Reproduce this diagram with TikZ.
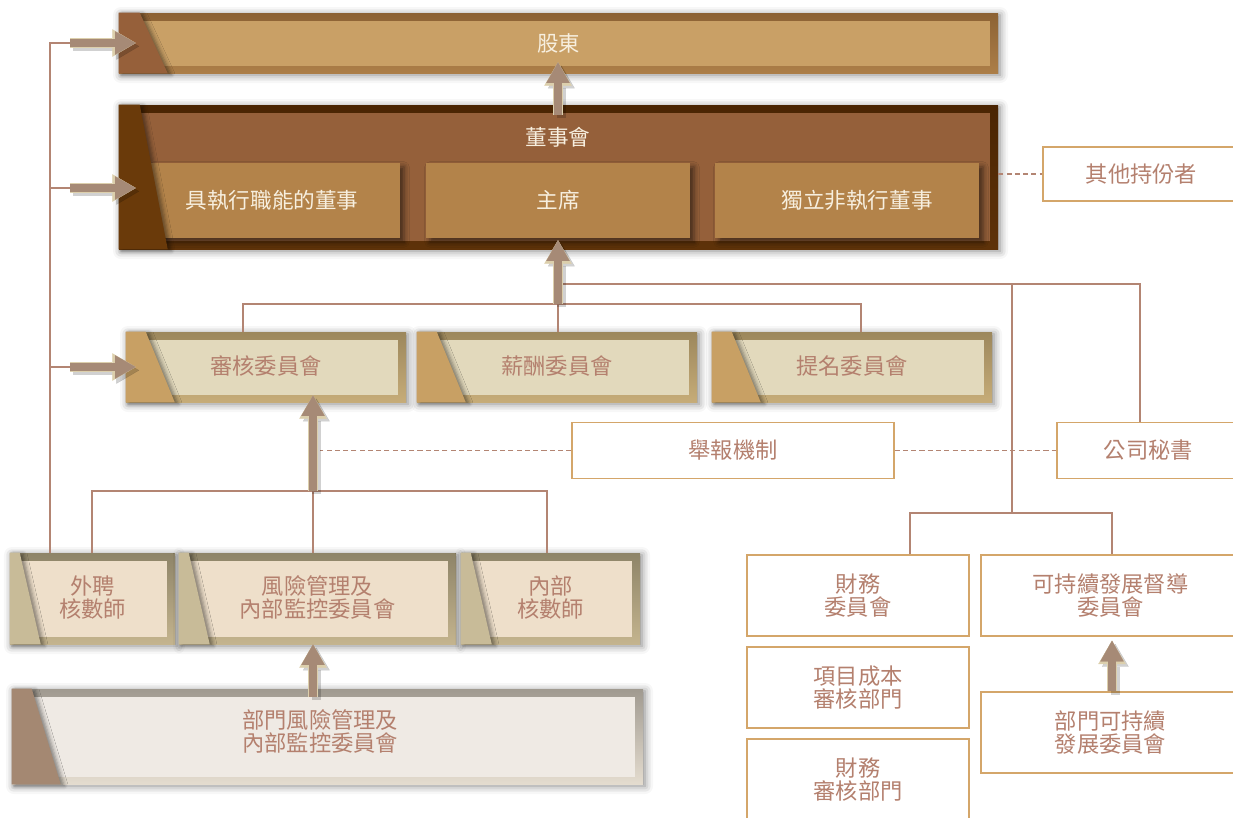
\documentclass[tikz,border=0pt]{standalone}
\usepackage{fontspec}
\setmainfont{Noto Sans CJK TC}
\usetikzlibrary{positioning,calc,arrows.meta,shadows.blur}

\definecolor{shtop}{HTML}{8C6234}
\definecolor{shbot}{HTML}{AC7E48}
\definecolor{shinner}{HTML}{C9A066}
\definecolor{shwedge}{HTML}{96603A}
\definecolor{bdtop}{HTML}{4A2503}
\definecolor{bdbot}{HTML}{5E3209}
\definecolor{bdinner}{HTML}{95603A}
\definecolor{bdwedge}{HTML}{6A3A0A}
\definecolor{seatfill}{HTML}{B3834A}
\definecolor{comtop}{HTML}{9C875C}
\definecolor{combot}{HTML}{C6AC78}
\definecolor{cominner}{HTML}{E2D9BC}
\definecolor{comwedge}{HTML}{C8A064}
\definecolor{rowtop}{HTML}{8E8468}
\definecolor{rowbot}{HTML}{C4B48E}
\definecolor{rowinner}{HTML}{EEDFCA}
\definecolor{rowwedge}{HTML}{C8BB98}
\definecolor{deptop}{HTML}{A09A90}
\definecolor{depbot}{HTML}{E4DCCF}
\definecolor{depinner}{HTML}{EFEAE4}
\definecolor{depwedge}{HTML}{A48872}
\definecolor{lighttext}{HTML}{F7EFDF}
\definecolor{rose}{HTML}{B4806E}
\definecolor{goldline}{HTML}{D4A66A}
\definecolor{treeline}{HTML}{B38573}
\definecolor{arrowfill}{HTML}{A68A76}
\definecolor{arrowedge}{HTML}{DCCFAC}

\newcommand{\pxu}{0.75pt}
% inner panel, slanted tab and label of a framed box
\newcommand{\tabbox}[5]{%
  \fill[#2inner] ($(#1.north west)+(#3,8)$) rectangle ($(#1.south east)+(-8,-7)$);
  \fill[#2wedge, wedgeshade] (#1.north west) -- ++(#3,0) -- ($(#1.south west)+(#4,0)$) -- (#1.south west) -- cycle;
  \node[#2label] (#1-t) at (#1) {#5};}

\begin{document}
\begin{tikzpicture}[x=0.75pt, y=-0.75pt,
    tab/.style={inner sep=0pt, top color=#1top, bottom color=#1bot,
      blur shadow={shadow xshift=1.5pt, shadow yshift=-1.5pt, shadow blur radius=6pt, shadow opacity=50}},
    wedgeshade/.style={blur shadow={shadow xshift=2.5pt, shadow yshift=-1pt, shadow blur radius=3pt, shadow opacity=45}},
    cjk/.style={font=\fontsize{16.7}{17.3}\selectfont, align=center, inner sep=0pt},
    shlabel/.style={cjk, font=\fontsize{16}{17}\selectfont, text=lighttext},
    bdlabel/.style={cjk, font=\fontsize{16.2}{17}\selectfont, text=lighttext},
    comlabel/.style={cjk, text=rose, yshift=1pt},
    rowlabel/.style={cjk, text=rose, yshift=0.5pt},
    deplabel/.style={cjk, text=rose, yshift=4pt},
    seat/.style={cjk, font=\fontsize{16.2}{17}\selectfont, text=lighttext, fill=seatfill,
      minimum width=264*\pxu, minimum height=75*\pxu,
      blur shadow={shadow xshift=3pt, shadow yshift=-3pt, shadow blur radius=4pt, shadow opacity=55}},
    plain/.style={cjk, text=rose, draw=goldline, line width=1pt, fill=white, minimum height=81*\pxu},
    tree/.style={draw=treeline, line width=0.9pt},
    dashlink/.style={tree, dash pattern=on 3.8pt off 2.4pt},
    fat/.style={draw=arrowfill, line width=6pt, -{Triangle[width=17.5pt, length=15.5pt, line width=0.1pt]},
      preaction={draw=black, opacity=.18, line width=7pt, transform canvas={xshift=2.5pt, yshift=-2.5pt},
        -{Triangle[width=20pt, length=17pt, line width=0.1pt]}},
      preaction={draw=arrowedge, line width=7.5pt, -{Triangle[width=20.5pt, length=17.5pt, line width=0.1pt]}}}
  ]

    \useasboundingbox (0,0) rectangle (1233,818);

    % shareholders
    \node[tab=sh, minimum width=879*\pxu, minimum height=60*\pxu] (sh) at (558.5,43) {};
    \tabbox{sh}{sh}{21}{49}{股東}

    % board
    \node[tab=bd, minimum width=879*\pxu, minimum height=144*\pxu] (board) at (558.5,177) {};
    \fill[bdinner] ($(board.north west)+(21,8)$) rectangle ($(board.south east)+(-8,-8)$);
    \node[seat, minimum width=250*\pxu] (exec) at (275,200.5) {具執行職能的董事\hspace*{4.5pt}};
    \node[seat] (chair) at (558,200.5) {主席};
    \node[seat] (indep) at (847,200.5) {\hspace*{15pt}獨立非執行董事};
    \fill[bdwedge, wedgeshade] (board.north west) -- ++(21,0) -- ($(board.south west)+(49,0)$) -- (board.south west) -- cycle;
    \node[bdlabel] (board-t) at (558,137) {董事會};

    % committees
    \node[tab=com, minimum width=280*\pxu, minimum height=70*\pxu] (aud) at (266,367) {};
    \tabbox{aud}{com}{20}{49}{審核委員會}
    \node[tab=com, minimum width=280*\pxu, minimum height=70*\pxu] (rem) at (557,367) {};
    \tabbox{rem}{com}{20}{49}{薪酬委員會}
    \node[tab=com, minimum width=280*\pxu, minimum height=70*\pxu] (nom) at (852,367) {};
    \tabbox{nom}{com}{20}{49}{提名委員會}

    % auditors and risk
    \node[tab=row, minimum width=165*\pxu, minimum height=91*\pxu] (ext) at (92.5,598.5) {};
    \tabbox{ext}{row}{10}{31}{外聘\\核數師}
    \node[tab=row, minimum width=277*\pxu, minimum height=91*\pxu] (risk) at (317.5,598.5) {};
    \tabbox{risk}{row}{10}{31}{風險管理及\\內部監控委員會}
    \node[tab=row, minimum width=179*\pxu, minimum height=91*\pxu] (int) at (550.5,598.5) {};
    \tabbox{int}{row}{10}{31}{內部\\核數師}
    \node[tab=dep, minimum width=631*\pxu, minimum height=95*\pxu] (dept) at (327.5,736.5) {};
    \tabbox{dept}{dep}{20}{49}{部門風險管理及\hspace*{11pt}\\內部監控委員會\hspace*{11pt}}

    % plain boxes
    \node[plain, minimum width=197*\pxu, minimum height=54*\pxu] (other) at (1141.5,174) {其他持份者};
    \node[plain, minimum width=322*\pxu, minimum height=56*\pxu] (whistle) at (733,450.5) {舉報機制};
    \node[plain, minimum width=183*\pxu, minimum height=56*\pxu] (sec) at (1148.5,450.5) {公司秘書};
    \node[plain, minimum width=222*\pxu] (fin) at (858,595.5) {財務\\委員會};
    \node[plain, minimum width=259*\pxu] (sus) at (1110.5,595.5) {可持續發展督導\\委員會};
    \node[plain, minimum width=222*\pxu] (cost) at (858,687.5) {項目成本\\審核部門};
    \node[plain, minimum width=222*\pxu] (finaudit) at (858,779.5) {財務\\審核部門};
    \node[plain, minimum width=259*\pxu] (dsus) at (1110.5,732.5) {部門可持續\\發展委員會};

    % left spine
    \coordinate (spine) at (50,43);
    \coordinate (inSh) at (70,43);
    \coordinate (inBd) at (70,188);
    \coordinate (inAud) at (70,367);
    \draw[tree] (ext.north -| spine) -- (spine) -- (inSh);
    \draw[tree] (spine |- inBd) -- (inBd);
    \draw[tree] (spine |- inAud) -- (inAud);

    % committees to board
    \coordinate (comHub) at (558,304);
    \coordinate (audTap) at (243,304);
    \coordinate (nomTap) at (861,304);
    \draw[tree] (aud.north -| audTap) -- (audTap) -- (nomTap) -- (nom.north -| nomTap);
    \draw[tree] (comHub) -- (rem.north -| comHub);

    % secretary branch
    \coordinate (secHub) at (563,284);
    \coordinate (finTap) at (1012,284);
    \coordinate (secTap) at (1140,284);
    \coordinate (finHub) at (1012,513);
    \coordinate (finL) at (910,513);
    \coordinate (finR) at (1112,513);
    \draw[tree] (secHub) -- (secTap) -- (sec.north -| secTap);
    \draw[tree] (finTap) -- (finHub);
    \draw[tree] (fin.north -| finL) -- (finL) -- (finR) -- (sus.north -| finR);

    % audit group
    \coordinate (riskHub) at (313,491);
    \coordinate (extTap) at (92,491);
    \coordinate (intTap) at (547,491);
    \draw[tree] (ext.north -| extTap) -- (extTap) -- (intTap) -- (int.north -| intTap);
    \draw[tree] (riskHub) -- (risk.north -| riskHub);

    % dashed links
    \coordinate (whistleEnd) at (320,450.5);
    \draw[dashlink] (whistle.west) -- (whistleEnd);
    \draw[dashlink] (whistle.east) -- (sec.west);
    \draw[dashlink] (board.east |- other.west) -- (other.west);

    % block arrows
    \draw[fat] (inSh) -- ($(sh.west)+(17,0)$);
    \draw[fat] (inBd) -- ($(board.west |- inBd)+(17,0)$);
    \draw[fat] (inAud) -- ($(aud.west)+(10,0)$);
    \draw[fat] (comHub) -- ($(board.south -| comHub)+(0,-9)$);
    \draw[fat] ($(board.north -| comHub)+(0,10)$) -- ($(sh.south -| comHub)+(0,-11)$);
    \draw[fat] (riskHub) -- ($(aud.south -| riskHub)+(0,-7)$);
    \draw[fat] ($(dept.north -| riskHub)+(0,8)$) -- (risk.south -| riskHub);
    \draw[fat] (dsus.north -| finR) -- ($(sus.south -| finR)+(0,4)$);

\end{tikzpicture}
\end{document}
